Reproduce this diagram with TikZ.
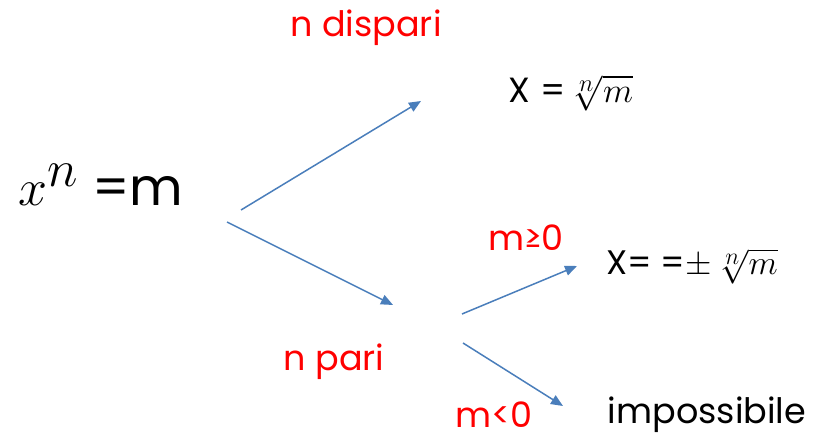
\RequirePackage{fix-cm}
\documentclass[tikz,border=0pt]{standalone}
\usepackage[no-math]{fontspec}
\setmainfont{Poppins}
\usetikzlibrary{arrows.meta}
\definecolor{arrblue}{HTML}{4A7EBB}
\definecolor{lblred}{HTML}{FF0000}

\begin{document}
\begin{tikzpicture}[x=1pt, y=-1pt,
    lbl/.style={text=lblred, inner sep=0pt, font=\fontsize{35}{40}\selectfont},
    res/.style={inner sep=0pt, font=\fontsize{35}{40}\selectfont},
    arr/.style={-{Triangle[length=12pt, width=10pt]}, line width=1.5pt, arrblue},
]
    \useasboundingbox (0,0) rectangle (815,441);

    % equation
    \node[inner sep=0pt, font=\fontsize{52}{60}\selectfont] (eq) at (101,185) {$x^{\textstyle n}$ =m};

    % branch labels
    \node[lbl] (odd) at (366,28) {n dispari};
    \node[lbl] (even) at (334,362) {n pari};
    \node[lbl] (pos) at (526,238) {m≥0};
    \node[lbl] (neg) at (494,415) {m<0};

    % results
    \node[res] (r1) at (571,93) {X =\hspace{4pt}$\sqrt[\scriptstyle n]{m}$};
    \node[res, font=\fontsize{34}{40}\selectfont] (r2) at (692,266) {X= =$\pm$\hspace{4pt}$\sqrt[\scriptstyle n]{m}$};
    \node[res] (r3) at (707,415) {impossibile};

    % arrows
    \coordinate (a1s) at (241,210); \coordinate (a1e) at (421,101);
    \coordinate (a2s) at (227,222); \coordinate (a2e) at (393,305);
    \coordinate (a3s) at (462,314); \coordinate (a3e) at (577,266);
    \coordinate (a4s) at (463,343); \coordinate (a4e) at (563,406);
    \draw[arr] (a1s) -- (a1e);
    \draw[arr] (a2s) -- (a2e);
    \draw[arr] (a3s) -- (a3e);
    \draw[arr] (a4s) -- (a4e);
\end{tikzpicture}
\end{document}
